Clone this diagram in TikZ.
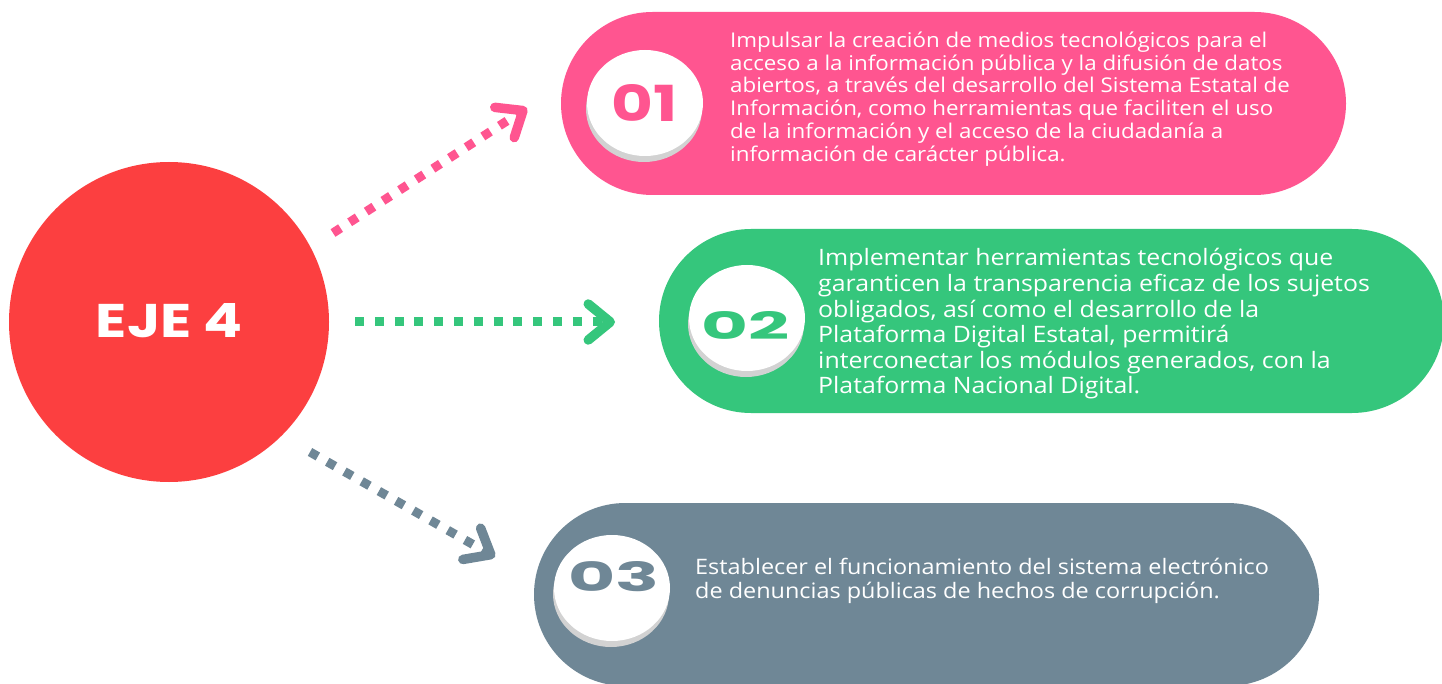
\documentclass[tikz,border=0pt]{standalone}
\usepackage{fontspec}
\setmainfont{Open Sans}[FakeStretch=1.1]
\newfontfamily\pop{Poppins}
\usetikzlibrary{arrows.meta,shapes.geometric}
\definecolor{ejered}{HTML}{FC3F40}
\definecolor{ejepink}{HTML}{FF5590}
\definecolor{ejegreen}{HTML}{35C67C}
\definecolor{ejegrey}{HTML}{6F8796}
\definecolor{shadowgrey}{HTML}{D2D2D2}
\tikzset{
  pill/.style={rectangle, rounded corners=91.5pt, minimum width=785pt, minimum height=183pt, inner sep=0pt, draw=none},
  badge/.style={ellipse, fill=white, minimum width=116pt, minimum height=106pt, inner sep=0pt},
  badgeshadow/.style={ellipse, fill=shadowgrey, minimum width=116pt, minimum height=106pt, inner sep=0pt},
  numlabel/.style={inner sep=0pt, anchor=center},
  bodytext/.style={text=white, align=left, anchor=west, inner sep=0pt},
  dotline/.style={line width=9pt, dash pattern=on 9pt off 10.8pt,
    -{Straight Barb[length=22pt,width=36pt,line width=9.5pt,round]}},
}
\begin{document}
\begin{tikzpicture}[x=1pt,y=-1pt]
\useasboundingbox (0,0) rectangle (1442,684);
\clip (0,0) rectangle (1442,684);
\fill[white] (0,0) rectangle (1442,684);

% connector end points
\coordinate (s1) at (333,233);
\coordinate (t1) at (527,108);
\coordinate (s2) at (355,322);
\coordinate (t2) at (615,322);
\coordinate (s3) at (310,452);
\coordinate (t3) at (495,557);

% central circle
\node[circle, fill=ejered, minimum size=320pt, inner sep=0pt] (eje) at (169,322) {};
\node[numlabel, text=white] (ejelabel) at (169.5,321) {\resizebox{147pt}{34pt}{\pop\bfseries EJE 4}};

% pills
\node[pill, fill=ejepink] (p1) at (953.5,103.5) {};
\node[pill, fill=ejegreen, minimum height=184pt, rounded corners=92pt] (p2) at (1051.5,321) {};
\node[pill, fill=ejegrey] (p3) at (926.5,594.5) {};

% badges
\node[badgeshadow] (b1s) at (644,109) {};
\node[badge] (b1) at (645,103) {};
\node[numlabel, text=ejepink] (n1) at (645,103.5) {\resizebox{66pt}{37pt}{\pop\bfseries 01}};

\node[badgeshadow] (b2s) at (746,324) {};
\node[badge] (b2) at (747,318) {};
\node[numlabel, text=ejegreen] (n2) at (746,325) {\resizebox{88pt}{28pt}{\pop\bfseries 02}};

\node[badgeshadow] (b3s) at (611,594) {};
\node[badge] (b3) at (612,588) {};
\node[numlabel, text=ejegrey] (n3) at (614,577) {\resizebox{91pt}{30pt}{\pop\bfseries 03}};

% texts
\node[bodytext, font=\fontsize{20.3}{22.8}\selectfont] (txt1) at (730,99) {Impulsar la creación de medios tecnológicos para el\\
acceso a la información pública y la difusión de datos\\
abiertos, a través del desarrollo del Sistema Estatal de\\
Información, como herramientas que faciliten el uso\\
de la información y el acceso de la ciudadanía a\\
información de carácter pública.};

\node[bodytext, font=\fontsize{22.6}{25.6}\selectfont] (txt2) at (818,324) {Implementar herramientas tecnológicos que\\
garanticen la transparencia eficaz de los sujetos\\
obligados, así como el desarrollo de la\\
Plataforma Digital Estatal, permitirá\\
interconectar los módulos generados, con la\\
Plataforma Nacional Digital.};

\node[bodytext, font=\fontsize{21.3}{24}\selectfont] (txt3) at (695,581) {Establecer el funcionamiento del sistema electrónico\\
de denuncias públicas de hechos de corrupción.};

% connectors
\draw[dotline, ejepink] (s1) -- (t1);
\draw[dotline, ejegreen] (s2) -- (t2);
\draw[dotline, ejegrey] (s3) -- (t3);
\end{tikzpicture}
\end{document}
